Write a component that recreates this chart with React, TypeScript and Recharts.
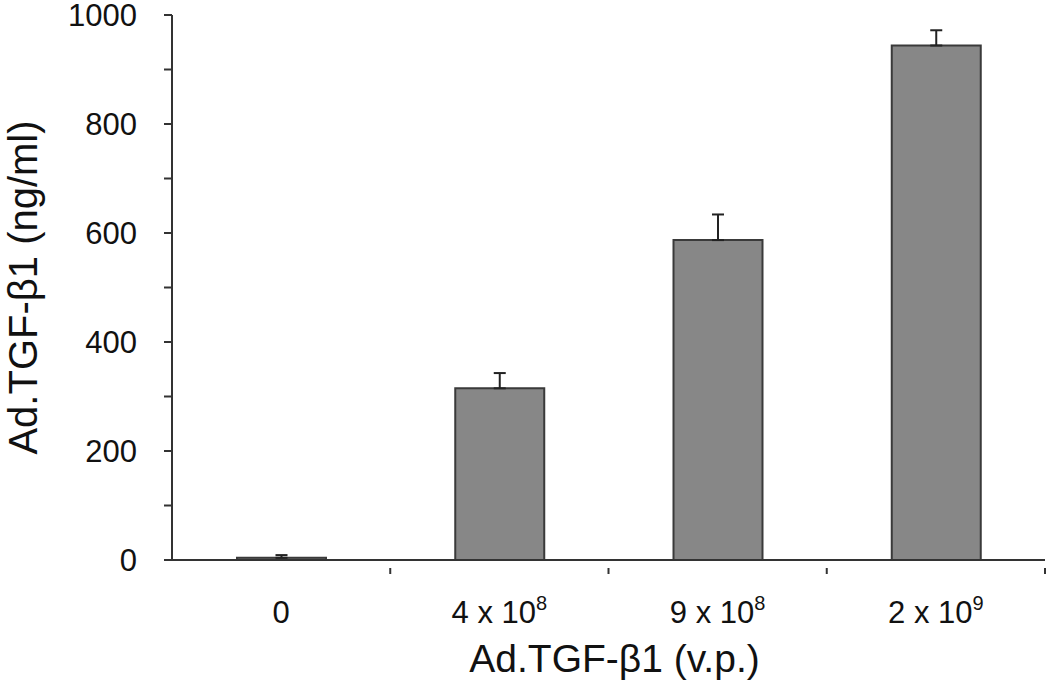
import React from 'react';
import { BarChart, Bar, XAxis, YAxis, ErrorBar, Label } from 'recharts';

// dose groups (base, exponent) and measured TGF-b1 levels
const doseBase = ['0', '4 x 10', '9 x 10', '2 x 10'];
const doseExp = ['', '8', '8', '9'];
const levels = [4, 315, 587, 944];
const errors = [5, 28, 47, 28];
const yTicks = [0, 100, 200, 300, 400, 500, 600, 700, 800, 900, 1000];

const data = doseBase.map((b, i) => ({
  dose: b + doseExp[i],
  base: b,
  exp: doseExp[i],
  level: levels[i],
  err: [0, errors[i]],
}));

const FONT = '"Liberation Sans", Arial, sans-serif';
const AXIS = '#333333';

const DoseTick = (props: any) => {
  const { x, y, payload, index } = props;
  const half = payload && payload.offset ? payload.offset : 109;
  const d = data[index] || data.find((r) => r.dose === payload.value);
  return (
    <g>
      <line x1={x + half} y1={y} x2={x + half} y2={y + 6} stroke={AXIS} strokeWidth={2} />
      <text x={x} y={y + 55} textAnchor="middle" fontFamily={FONT} fontSize={31} fill="#111">
        {d ? d.base : payload.value}
        {d && d.exp ? (
          <tspan fontSize={20} dy={-13}>{d.exp}</tspan>
        ) : null}
      </text>
    </g>
  );
};

const App = () => {
  return (
    <div style={{ position: 'absolute', left: 0, top: 0, width: 1050, height: 690, background: '#fff' }}>
      <BarChart
        width={1050}
        height={690}
        data={data}
        margin={{ top: 15, right: 5, bottom: 0, left: 0 }}
        barSize={89}
      >
        <XAxis
          dataKey="dose"
          height={130}
          axisLine={{ stroke: AXIS, strokeWidth: 2 }}
          tickLine={false}
          tick={<DoseTick />}
          interval={0}
        >
          <Label
            content={({ viewBox }: any) => (
              <text
                x={viewBox.x + viewBox.width / 2 + 6}
                y={672}
                textAnchor="middle"
                fontFamily={FONT}
                fontSize={39}
                fill="#111"
              >
                Ad.TGF-β1 (v.p.)
              </text>
            )}
          />
        </XAxis>
        <YAxis
          width={172}
          domain={[0, 1000]}
          ticks={yTicks}
          interval={0}
          axisLine={{ stroke: AXIS, strokeWidth: 2 }}
          tickLine={{ stroke: AXIS, strokeWidth: 2 }}
          tickSize={8}
          tickMargin={27}
          tickFormatter={(v: number) => (v % 200 === 0 ? String(v) : '')}
          tick={{ fontFamily: FONT, fontSize: 31, fill: '#111' }}
        >
          <Label
            content={({ viewBox }: any) => {
              const cy = viewBox.y + viewBox.height / 2;
              return (
                <text
                  x={37}
                  y={cy}
                  transform={`rotate(-90, 37, ${cy})`}
                  textAnchor="middle"
                  fontFamily={FONT}
                  fontSize={40}
                  fill="#111"
                >
                  Ad.TGF-β1 (ng/ml)
                </text>
              );
            }}
          />
        </YAxis>
        <Bar dataKey="level" fill="#878787" stroke="#3a3a3a" strokeWidth={2} isAnimationActive={false}>
          <ErrorBar dataKey="err" width={6} stroke="#222" strokeWidth={2} direction="y" />
        </Bar>
      </BarChart>
    </div>
  );
};

export default App;
